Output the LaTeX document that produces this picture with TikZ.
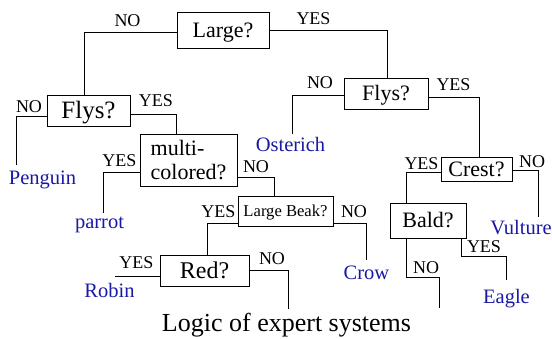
\documentclass[tikz,border=0pt]{standalone}
\usepackage{fontspec}
\setmainfont{Liberation Serif}
\definecolor{leafblue}{RGB}{25,25,165}
\begin{document}
\begin{tikzpicture}[x=1pt,y=-1pt,
  box/.style={draw, line width=0.9pt, inner sep=0pt, font=\fontsize{22}{24.5}\selectfont},
  qbox/.style={box, text height=14.6pt, text depth=0pt},
  lbl/.style={inner sep=0pt, text height=11.9pt, text depth=0pt, font=\fontsize{18}{18}\selectfont},
  leaf/.style={inner sep=3pt, anchor=base, text=leafblue, font=\fontsize{20.5}{20.5}\selectfont},
  wire/.style={line width=0.9pt}]
\useasboundingbox (0,0) rectangle (552,338);
% question boxes
\node[qbox, minimum width=92pt, minimum height=36pt] (large) at (223,30) {Large?};
\node[qbox, minimum width=83pt, minimum height=31pt, font=\fontsize{25}{25}\selectfont, text height=16.5pt] (flysL) at (88.5,110.5) {Flys?};
\node[box, minimum width=97pt, minimum height=52pt, align=left] (multi) at (188.5,160) {multi-\\colored?};
\node[qbox, minimum width=95pt, minimum height=30pt, font=\fontsize{16.6}{16.6}\selectfont, text height=11pt] (beak) at (285.5,211) {Large Beak?};
\node[qbox, minimum width=89pt, minimum height=31pt, font=\fontsize{24}{24}\selectfont, text height=15.9pt] (red) at (204.5,270.5) {Red?};
\node[qbox, minimum width=84pt, minimum height=31pt] (flysR) at (386,93.5) {Flys?};
\node[qbox, minimum width=71pt, minimum height=24pt] (crest) at (476.5,169) {Crest?};
\node[qbox, minimum width=76pt, minimum height=35pt] (bald) at (428,220.5) {Bald?};
% leaves
\node[leaf] (penguin) at (42.5,184) {Penguin};
\node[leaf] (parrot) at (99.5,228) {parrot};
\node[leaf] (robin) at (109.5,297) {Robin};
\node[leaf] (crow) at (366.5,279) {Crow};
\node[leaf] (osterich) at (290.5,151) {Osterich};
\node[leaf] (vulture) at (521,234) {Vulture};
\node[leaf] (eagle) at (506.5,303) {Eagle};
% free ends
\coordinate (robinEnd) at (115,276);
\coordinate (redNoEnd) at (288,309);
\coordinate (baldNoEnd) at (439,308);
% connectors
\draw[wire] ([yshift=-2pt]large.west) -| ([xshift=-4.5pt]flysL.north);
\draw[wire] (large.east) -| ([xshift=1pt]flysR.north);
\draw[wire] ([yshift=-5.5pt]flysL.west) -| ([xshift=-26.5pt,yshift=2.5pt]penguin.north);
\draw[wire] ([yshift=-3.5pt]flysL.east) -| ([xshift=-12.5pt]multi.north);
\draw[wire] ([yshift=-12pt]multi.west) -| ([xshift=3.5pt]parrot.north);
\draw[wire] ([yshift=-17pt]multi.east) -| ([xshift=-11.5pt]beak.north);
\draw[wire] ([yshift=-12pt]beak.west) -| ([xshift=2.5pt]red.north);
\draw[wire] ([yshift=-12pt]beak.east) -| ([yshift=2.5pt]crow.north);
\draw[wire] ([yshift=-5.5pt]red.west) -- (robinEnd);
\draw[wire] (red.east) -| (redNoEnd);
\draw[wire] ([yshift=-1.5pt]flysR.west) -| ([xshift=1.5pt]osterich.north);
\draw[wire] ([yshift=-3.5pt]flysR.east) -| ([xshift=2.5pt]crest.north);
\draw[wire] ([yshift=-3pt]crest.west) -| ([xshift=-22pt]bald.north);
\draw[wire] ([yshift=-1pt]crest.east) -| ([xshift=17pt]vulture.north);
\draw[wire] ([xshift=33pt]bald.south) -- ++(0,18) -| ([yshift=6pt]eagle.north);
\draw[wire] ([xshift=-22pt]bald.south) -- ++(0,39) -| (baldNoEnd);
% labels
\node[lbl] (l1) at (127.5,21) {NO};
\node[lbl] (l2) at (313.5,19) {YES};
\node[lbl] (l3) at (29,106.5) {NO};
\node[lbl] (l4) at (156,101) {YES};
\node[lbl] (l5) at (119.5,160.5) {YES};
\node[lbl] (l6) at (256,166.5) {NO};
\node[lbl] (l7) at (218.5,211.5) {YES};
\node[lbl] (l8) at (354,212) {NO};
\node[lbl] (l9) at (136.5,263) {YES};
\node[lbl] (l10) at (272,258.5) {NO};
\node[lbl] (l11) at (320,82.5) {NO};
\node[lbl] (l12) at (453.5,84.5) {YES};
\node[lbl] (l13) at (421.5,163.5) {YES};
\node[lbl] (l14) at (532,161.5) {NO};
\node[lbl] (l15) at (484,246.5) {YES};
\node[lbl] (l16) at (426,267.5) {NO};
% caption
\node[anchor=base, inner sep=0pt, font=\fontsize{26}{26}\selectfont] (caption) at (286.5,331.5) {Logic of expert systems};
\end{tikzpicture}
\end{document}
